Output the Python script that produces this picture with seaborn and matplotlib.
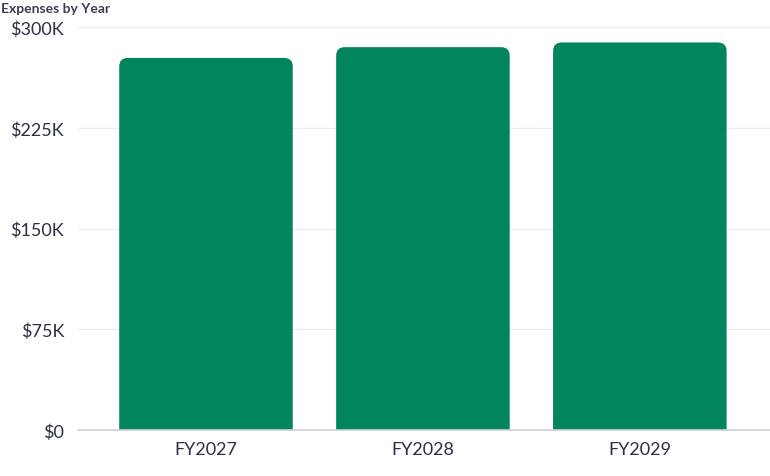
import pandas as pd
import seaborn as sns
import matplotlib.pyplot as plt
from matplotlib.patches import FancyBboxPatch
from matplotlib.ticker import FuncFormatter

years = ["FY2027", "FY2028", "FY2029"]
expenses = [277000, 285000, 288500]

df = pd.DataFrame({"year": years, "expenses": expenses})

sns.set_style("white")
plt.rcParams["font.family"] = ["Lato", "DejaVu Sans"]

text_color = "#2b3046"
bar_color = "#02845f"

fig = plt.figure(figsize=(7.7, 4.77), dpi=100)
ax = fig.add_axes([78 / 770, 46 / 477, 692 / 770, 403 / 477])

sns.barplot(data=df, x="year", y="expenses", color=bar_color, width=0.8,
            saturation=1, ax=ax)

ax.set_ylim(0, 300000)
ax.set_xlim(-0.59, 2.6)

# swap plain bars for ones with rounded tops
r = 0.04
aspect = (300000 / 403) / (1 / 217)
for p in list(ax.patches):
    x, w, h = p.get_x(), p.get_width(), p.get_height()
    p.remove()
    ax.add_patch(FancyBboxPatch((x, -30000), w, h + 30000,
                                boxstyle=f"round,pad=0,rounding_size={r}",
                                mutation_aspect=aspect, fc=bar_color, ec="none",
                                zorder=2))

ax.set_yticks([0, 75000, 150000, 225000, 300000])
ax.yaxis.set_major_formatter(FuncFormatter(
    lambda v, _: "$0" if v == 0 else f"${int(v / 1000)}K"))
ax.grid(axis="y", color="#ececec", linewidth=1, zorder=0)
ax.set_axisbelow(True)
for s in ["top", "right", "left"]:
    ax.spines[s].set_visible(False)
ax.spines["bottom"].set_color("#cfd0d4")
ax.spines["bottom"].set_linewidth(1.2)

ax.tick_params(axis="both", length=0, labelsize=13, colors=text_color)
ax.tick_params(axis="y", pad=10)
ax.tick_params(axis="x", pad=8)
ax.set_xlabel("")
ax.set_ylabel("")

fig.text(0.001, 1 - 9 / 477, "Expenses by Year", fontsize=10, fontweight="bold",
         color="#3a3f55", ha="left", va="center")

fig.savefig("out.png", dpi=100)
